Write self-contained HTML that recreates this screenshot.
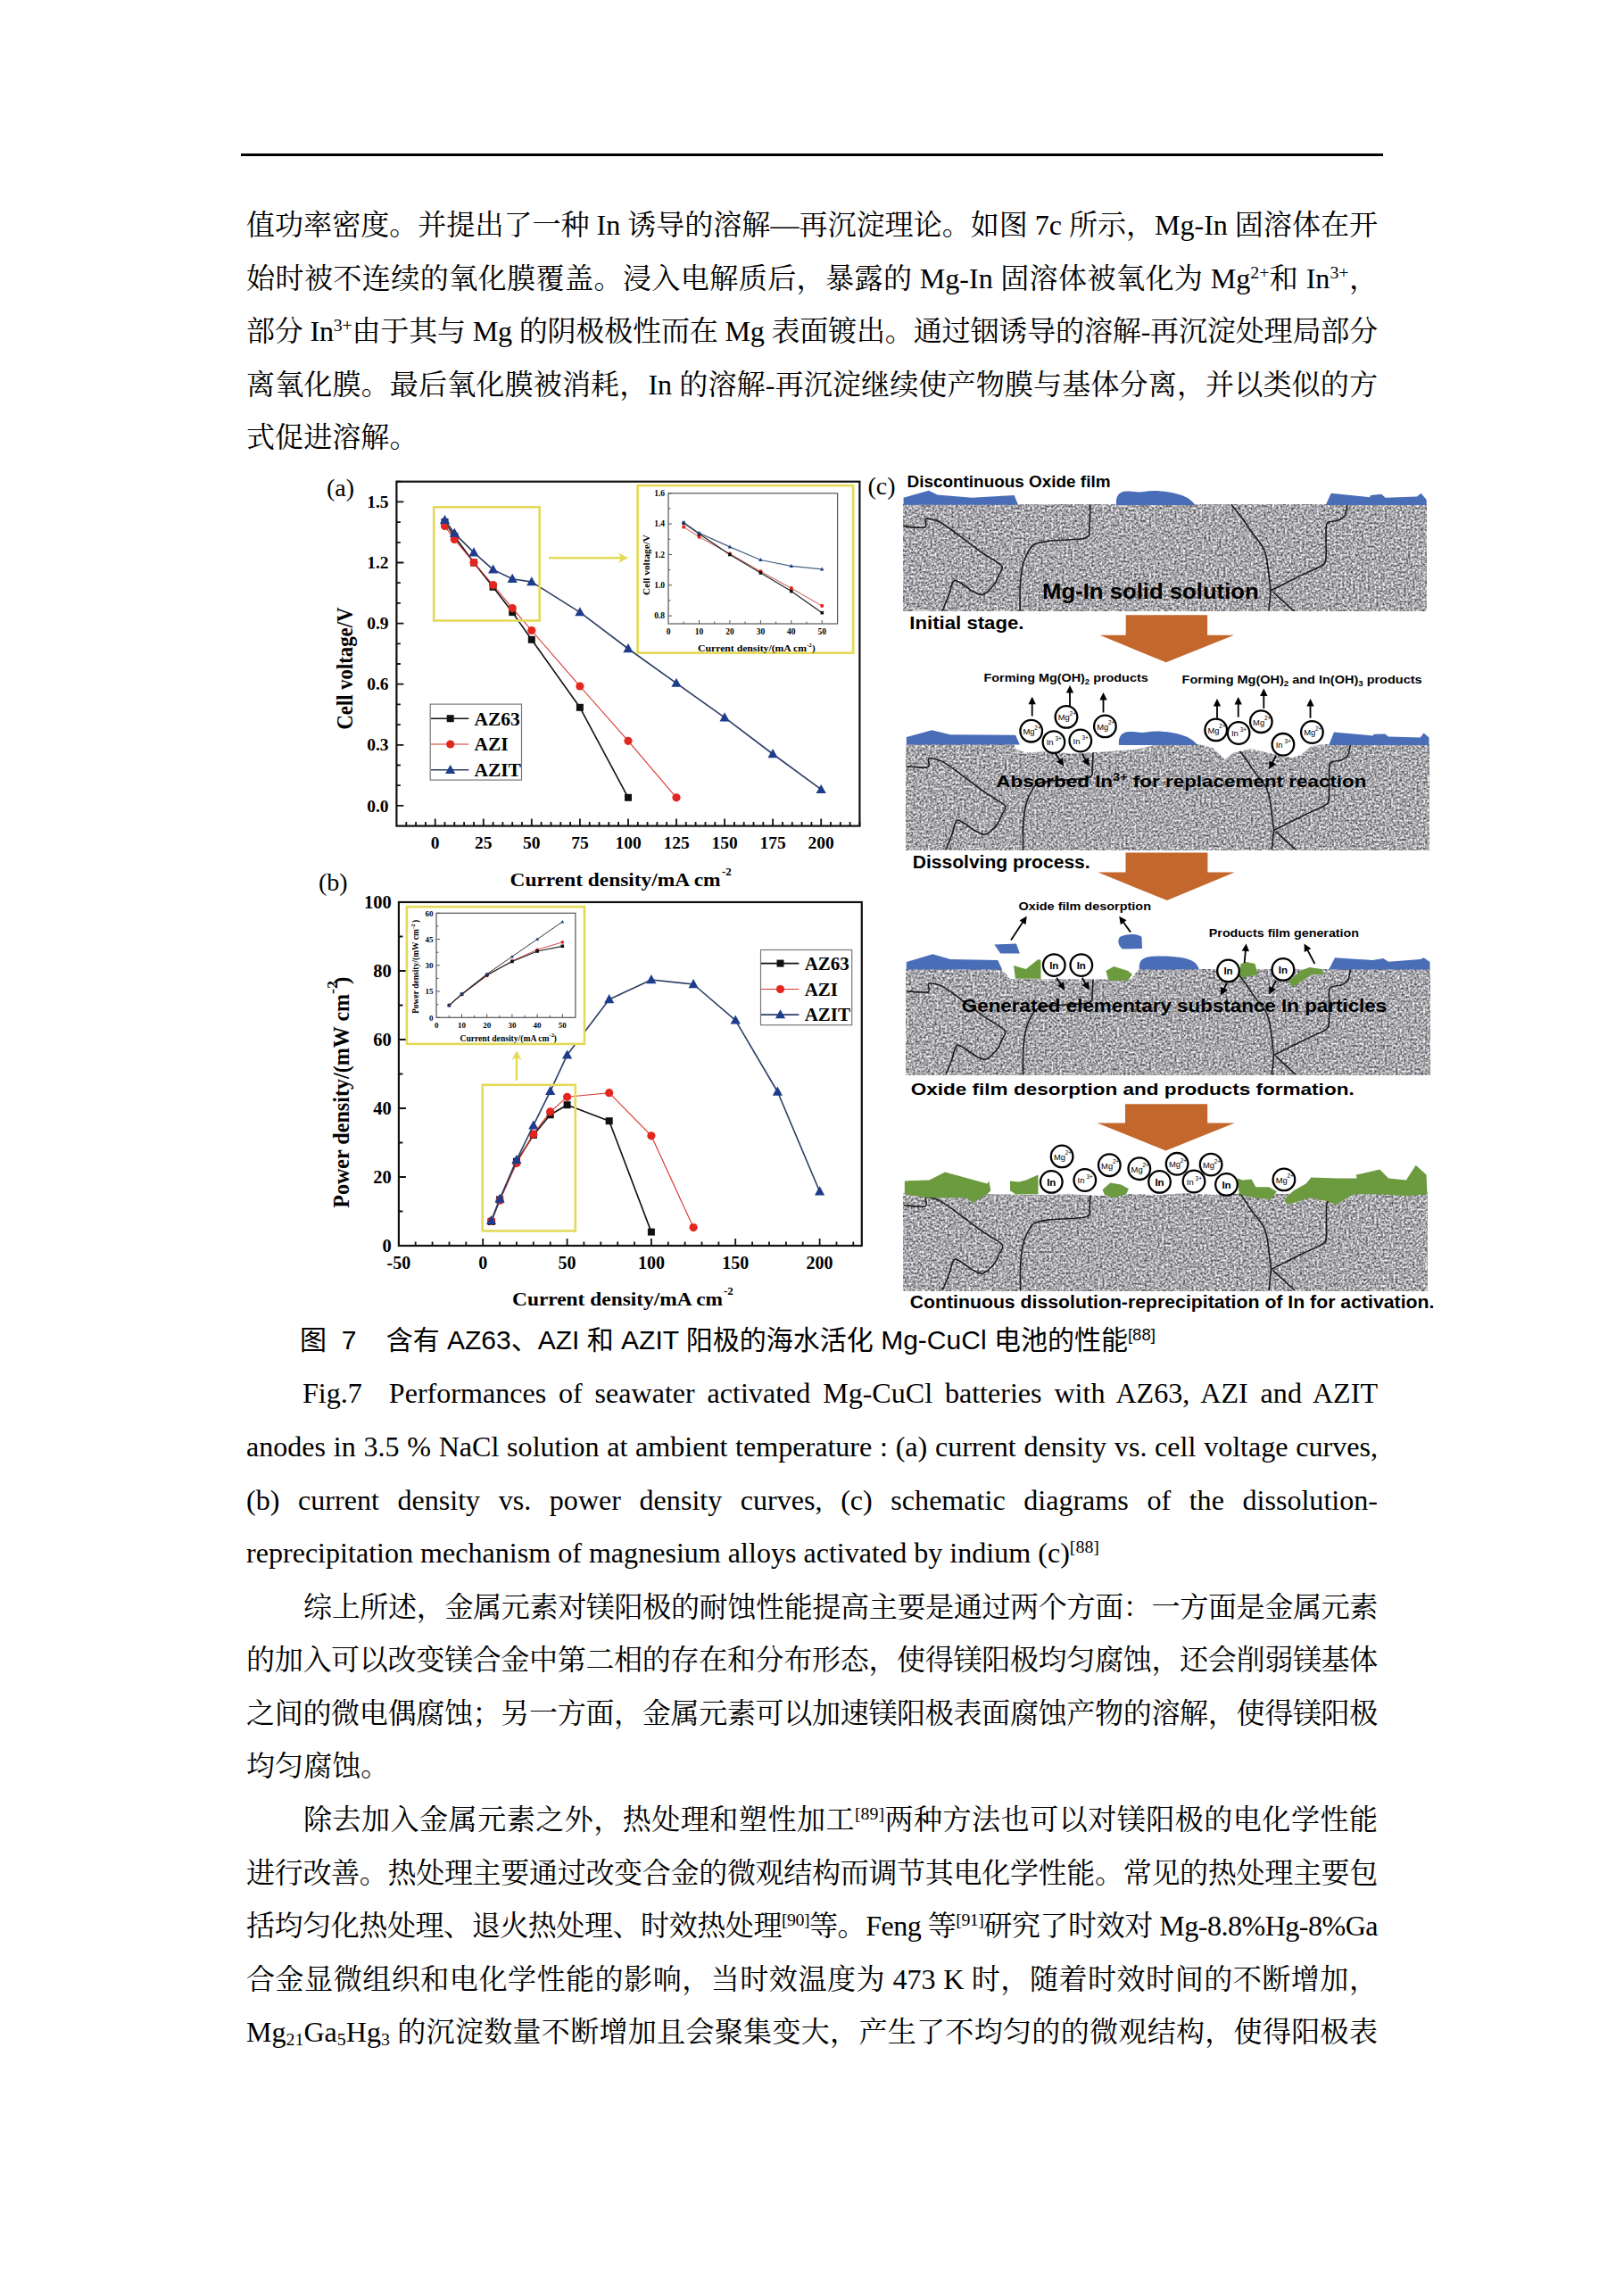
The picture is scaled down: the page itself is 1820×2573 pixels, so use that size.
<!DOCTYPE html><html><head><meta charset="utf-8"><title>page</title><style>
html,body{margin:0;padding:0;background:#fff}
body{width:1820px;height:2573px;position:relative;overflow:hidden}
.hr{position:absolute;left:270px;top:172px;width:1280px;height:3px;background:#000}
.ln{position:absolute;height:0;font-family:"Liberation Serif", "Noto Serif CJK SC", serif;font-size:32.08px;line-height:0;color:#000;white-space:nowrap}
.ln.j{text-align:justify;text-align-last:justify}
.ln>span.in{display:block}
.cap{font-family:"Liberation Sans","Noto Sans CJK SC",sans-serif;font-size:30px}
sup{font-size:0.62em;vertical-align:baseline;position:relative;top:-0.55em;line-height:0}
sub{font-size:0.62em;vertical-align:baseline;position:relative;top:0.22em;line-height:0}
svg{position:absolute;left:330px;top:505px}
</style></head><body><div class="hr"></div><div class="ln j" style="top:252.0px;left:276px;width:1268px;letter-spacing:-0.056px">值功率密度。并提出了一种 In 诱导的溶解—再沉淀理论。如图 7c 所示，Mg-In 固溶体在开</div><div class="ln j" style="top:311.5px;left:276px;width:1268px">始时被不连续的氧化膜覆盖。浸入电解质后，暴露的 Mg-In 固溶体被氧化为 Mg<sup>2+</sup>和 In<sup>3+</sup>，</div><div class="ln j" style="top:371.0px;left:276px;width:1268px;letter-spacing:-0.240px">部分 In<sup>3+</sup>由于其与 Mg 的阴极极性而在 Mg 表面镀出。通过铟诱导的溶解-再沉淀处理局部分</div><div class="ln j" style="top:430.5px;left:276px;width:1268px">离氧化膜。最后氧化膜被消耗，In 的溶解-再沉淀继续使产物膜与基体分离，并以类似的方</div><div class="ln" style="top:490.0px;left:276px;width:1268px">式促进溶解。</div><div class="ln j" style="top:1800.5px;left:340px;width:1204px;letter-spacing:-0.421px">综上所述，金属元素对镁阳极的耐蚀性能提高主要是通过两个方面：一方面是金属元素</div><div class="ln j" style="top:1860.0px;left:276px;width:1268px;letter-spacing:-0.402px">的加入可以改变镁合金中第二相的存在和分布形态，使得镁阳极均匀腐蚀，还会削弱镁基体</div><div class="ln j" style="top:1919.5px;left:276px;width:1268px;letter-spacing:-0.402px">之间的微电偶腐蚀；另一方面，金属元素可以加速镁阳极表面腐蚀产物的溶解，使得镁阳极</div><div class="ln" style="top:1979.0px;left:276px;width:1268px">均匀腐蚀。</div><div class="ln j" style="top:2039.0px;left:340px;width:1204px">除去加入金属元素之外，热处理和塑性加工<sup>[89]</sup>两种方法也可以对镁阳极的电化学性能</div><div class="ln j" style="top:2098.5px;left:276px;width:1268px;letter-spacing:-0.402px">进行改善。热处理主要通过改变合金的微观结构而调节其电化学性能。常见的热处理主要包</div><div class="ln j" style="top:2158.0px;left:276px;width:1268px;letter-spacing:-0.532px">括均匀化热处理、退火热处理、时效热处理<sup>[90]</sup>等。Feng 等<sup>[91]</sup>研究了时效对 Mg-8.8%Hg-8%Ga</div><div class="ln j" style="top:2217.5px;left:276px;width:1268px">合金显微组织和电化学性能的影响，当时效温度为 473 K 时，随着时效时间的不断增加，</div><div class="ln j" style="top:2277.0px;left:276px;width:1268px">Mg<sub>21</sub>Ga<sub>5</sub>Hg<sub>3</sub> 的沉淀数量不断增加且会聚集变大，产生了不均匀的的微观结构，使得阳极表</div><div class="ln en j" style="top:1561.3px;left:339px;width:1205px">Fig.7<span style="display:inline-block;width:30px"></span>Performances of seawater activated Mg-CuCl batteries with AZ63, AZI and AZIT</div><div class="ln en j" style="top:1620.8px;left:276px;width:1268px">anodes in 3.5 % NaCl solution at ambient temperature : (a) current density vs. cell voltage curves,</div><div class="ln en j" style="top:1680.9px;left:276px;width:1268px">(b) current density vs. power density curves, (c) schematic diagrams of the dissolution-</div><div class="ln en" style="top:1740.3px;left:276px;width:1268px">reprecipitation mechanism of magnesium alloys activated by indium (c)<sup>[88]</sup></div><div class="ln cap" style="top:1502.0px;left:336px;width:1000px">图&nbsp;&nbsp;7&nbsp;&nbsp;&nbsp;&nbsp;含有 AZ63、AZI 和 AZIT 阳极的海水活化 Mg-CuCl 电池的性能<sup>[88]</sup></div><svg width="1290" height="975" viewBox="330 505 1290 975"><rect x="444.4" y="539.7" width="519.0" height="385.9" fill="none" stroke="#111" stroke-width="2.2"/><path d="M455.3,925.6v-4.5M466.1,925.6v-4.5M476.9,925.6v-4.5M487.7,925.6v-8M498.5,925.6v-4.5M509.3,925.6v-4.5M520.1,925.6v-4.5M531.0,925.6v-4.5M541.8,925.6v-8M552.6,925.6v-4.5M563.4,925.6v-4.5M574.2,925.6v-4.5M585.0,925.6v-4.5M595.8,925.6v-8M606.6,925.6v-4.5M617.5,925.6v-4.5M628.3,925.6v-4.5M639.1,925.6v-4.5M649.9,925.6v-8M660.7,925.6v-4.5M671.5,925.6v-4.5M682.3,925.6v-4.5M693.1,925.6v-4.5M704.0,925.6v-8M714.8,925.6v-4.5M725.6,925.6v-4.5M736.4,925.6v-4.5M747.2,925.6v-4.5M758.0,925.6v-8M768.8,925.6v-4.5M779.6,925.6v-4.5M790.5,925.6v-4.5M801.3,925.6v-4.5M812.1,925.6v-8M822.9,925.6v-4.5M833.7,925.6v-4.5M844.5,925.6v-4.5M855.3,925.6v-4.5M866.1,925.6v-8M877.0,925.6v-4.5M887.8,925.6v-4.5M898.6,925.6v-4.5M909.4,925.6v-4.5M920.2,925.6v-8M931.0,925.6v-4.5M941.8,925.6v-4.5M952.6,925.6v-4.5M963.5,925.6v-4.5M444.4,902.9h8M444.4,880.2h4.5M444.4,857.5h4.5M444.4,834.8h8M444.4,812.1h4.5M444.4,789.4h4.5M444.4,766.7h8M444.4,744.0h4.5M444.4,721.3h4.5M444.4,698.6h8M444.4,675.9h4.5M444.4,653.2h4.5M444.4,630.5h8M444.4,607.8h4.5M444.4,585.1h4.5M444.4,562.4h8M444.4,539.7h4.5" stroke="#111" stroke-width="1.8" fill="none"/><text x="487.7" y="951.4" text-anchor="middle" style="font-family:'Liberation Serif', serif;font-weight:bold;font-size:19.5px">0</text><text x="541.8" y="951.4" text-anchor="middle" style="font-family:'Liberation Serif', serif;font-weight:bold;font-size:19.5px">25</text><text x="595.8" y="951.4" text-anchor="middle" style="font-family:'Liberation Serif', serif;font-weight:bold;font-size:19.5px">50</text><text x="649.9" y="951.4" text-anchor="middle" style="font-family:'Liberation Serif', serif;font-weight:bold;font-size:19.5px">75</text><text x="704.0" y="951.4" text-anchor="middle" style="font-family:'Liberation Serif', serif;font-weight:bold;font-size:19.5px">100</text><text x="758.0" y="951.4" text-anchor="middle" style="font-family:'Liberation Serif', serif;font-weight:bold;font-size:19.5px">125</text><text x="812.1" y="951.4" text-anchor="middle" style="font-family:'Liberation Serif', serif;font-weight:bold;font-size:19.5px">150</text><text x="866.1" y="951.4" text-anchor="middle" style="font-family:'Liberation Serif', serif;font-weight:bold;font-size:19.5px">175</text><text x="920.2" y="951.4" text-anchor="middle" style="font-family:'Liberation Serif', serif;font-weight:bold;font-size:19.5px">200</text><text x="435.5" y="909.5" text-anchor="end" style="font-family:'Liberation Serif', serif;font-weight:bold;font-size:19.5px">0.0</text><text x="435.5" y="841.4" text-anchor="end" style="font-family:'Liberation Serif', serif;font-weight:bold;font-size:19.5px">0.3</text><text x="435.5" y="773.3" text-anchor="end" style="font-family:'Liberation Serif', serif;font-weight:bold;font-size:19.5px">0.6</text><text x="435.5" y="705.2" text-anchor="end" style="font-family:'Liberation Serif', serif;font-weight:bold;font-size:19.5px">0.9</text><text x="435.5" y="637.1" text-anchor="end" style="font-family:'Liberation Serif', serif;font-weight:bold;font-size:19.5px">1.2</text><text x="435.5" y="569.0" text-anchor="end" style="font-family:'Liberation Serif', serif;font-weight:bold;font-size:19.5px">1.5</text><text x="571.6" y="992.5" style="font-family:'Liberation Serif', serif;font-weight:bold;font-size:21px" textLength="236" lengthAdjust="spacingAndGlyphs">Current density/mA cm</text><text x="809" y="981" style="font-family:'Liberation Serif', serif;font-weight:bold;font-size:13px">-2</text><text transform="translate(395.2,817.6) rotate(-90)" style="font-family:'Liberation Serif', serif;font-weight:bold;font-size:24.5px" textLength="137" lengthAdjust="spacingAndGlyphs">Cell voltage/V</text><text x="366" y="556" style="font-family:'Liberation Serif', serif;font-size:28px">(a)</text><polyline points="498.5,585.1 509.3,601.0 531.0,630.5 552.6,657.7 574.2,686.1 595.8,716.8 649.9,792.8 704.0,893.8" fill="none" stroke="#111" stroke-width="1.6" stroke-linejoin="round"/><rect x="494.5" y="581.1" width="8.0" height="8.0" fill="#111"/><rect x="505.3" y="597.0" width="8.0" height="8.0" fill="#111"/><rect x="527.0" y="626.5" width="8.0" height="8.0" fill="#111"/><rect x="548.6" y="653.7" width="8.0" height="8.0" fill="#111"/><rect x="570.2" y="682.1" width="8.0" height="8.0" fill="#111"/><rect x="591.8" y="712.8" width="8.0" height="8.0" fill="#111"/><rect x="645.9" y="788.8" width="8.0" height="8.0" fill="#111"/><rect x="700.0" y="889.8" width="8.0" height="8.0" fill="#111"/><polyline points="498.5,589.6 509.3,604.4 531.0,630.5 552.6,655.5 574.2,681.6 595.8,706.5 649.9,769.0 704.0,830.3 758.0,893.8" fill="none" stroke="#d8322c" stroke-width="1.1" stroke-linejoin="round"/><circle cx="498.5" cy="589.6" r="4.6" fill="#e3261e"/><circle cx="509.3" cy="604.4" r="4.6" fill="#e3261e"/><circle cx="531.0" cy="630.5" r="4.6" fill="#e3261e"/><circle cx="552.6" cy="655.5" r="4.6" fill="#e3261e"/><circle cx="574.2" cy="681.6" r="4.6" fill="#e3261e"/><circle cx="595.8" cy="706.5" r="4.6" fill="#e3261e"/><circle cx="649.9" cy="769.0" r="4.6" fill="#e3261e"/><circle cx="704.0" cy="830.3" r="4.6" fill="#e3261e"/><circle cx="758.0" cy="893.8" r="4.6" fill="#e3261e"/><polyline points="498.5,582.8 509.3,597.6 531.0,619.1 552.6,638.4 574.2,648.7 595.8,652.1 649.9,686.1 704.0,727.0 758.0,765.6 812.1,804.2 866.1,845.0 920.2,884.7" fill="none" stroke="#2c3d66" stroke-width="1.6" stroke-linejoin="round"/><polygon points="498.5,576.9 504.1,587.0 492.9,587.0" fill="#1d3c8c"/><polygon points="509.3,591.7 514.9,601.8 503.7,601.8" fill="#1d3c8c"/><polygon points="531.0,613.3 536.6,623.4 525.4,623.4" fill="#1d3c8c"/><polygon points="552.6,632.6 558.2,642.6 547.0,642.6" fill="#1d3c8c"/><polygon points="574.2,642.8 579.8,652.9 568.6,652.9" fill="#1d3c8c"/><polygon points="595.8,646.2 601.4,656.3 590.2,656.3" fill="#1d3c8c"/><polygon points="649.9,680.2 655.5,690.3 644.3,690.3" fill="#1d3c8c"/><polygon points="704.0,721.1 709.6,731.2 698.4,731.2" fill="#1d3c8c"/><polygon points="758.0,759.7 763.6,769.8 752.4,769.8" fill="#1d3c8c"/><polygon points="812.1,798.3 817.7,808.4 806.5,808.4" fill="#1d3c8c"/><polygon points="866.1,839.1 871.7,849.2 860.5,849.2" fill="#1d3c8c"/><polygon points="920.2,878.9 925.8,888.9 914.6,888.9" fill="#1d3c8c"/><rect x="486.2" y="568.3" width="118.5" height="127.2" fill="none" stroke="#e3da58" stroke-width="2.6"/><rect x="714.6" y="544.1" width="241.5" height="187.6" fill="#fff" stroke="#e3da58" stroke-width="2.7"/><path d="M615,625.3H697" stroke="#e3da58" stroke-width="2.4"/><polygon points="704.0,625.3 693.0,619.5 696.0,625.3 693.0,631.1" fill="#e3da58"/><rect x="482.2" y="789.1" width="102.3" height="85.0" fill="#fff" stroke="#777" stroke-width="1.2"/><path d="M483.0,805.2H525.3" stroke="#111" stroke-width="1.6"/><rect x="500.7" y="801.2" width="8.0" height="8.0" fill="#111"/><text x="531.4" y="812.5" style="font-family:'Liberation Serif', serif;font-weight:bold;font-size:21.5px">AZ63</text><path d="M483.0,834.0H525.3" stroke="#d8322c" stroke-width="1.1"/><circle cx="504.7" cy="834.0" r="4.6" fill="#e3261e"/><text x="531.4" y="841.3" style="font-family:'Liberation Serif', serif;font-weight:bold;font-size:21.5px">AZI</text><path d="M483.0,862.8H525.3" stroke="#2c3d66" stroke-width="1.6"/><polygon points="504.7,856.9 510.3,867.0 499.1,867.0" fill="#1d3c8c"/><text x="531.4" y="870.1" style="font-family:'Liberation Serif', serif;font-weight:bold;font-size:21.5px">AZIT</text><rect x="749" y="552.8" width="189.6" height="146.2" fill="none" stroke="#555" stroke-width="1.2"/><path d="M766.2,699v-2.5M783.5,699v-4M800.7,699v-2.5M817.9,699v-4M835.1,699v-2.5M852.4,699v-4M869.6,699v-2.5M886.8,699v-4M904.0,699v-2.5M921.2,699v-4M749,690.1h4M749,672.9h2.5M749,655.8h4M749,638.6h2.5M749,621.5h4M749,604.3h2.5M749,587.1h4M749,570.0h2.5M749,552.8h4" stroke="#555" stroke-width="1" fill="none"/><text x="749.0" y="710.5" text-anchor="middle" style="font-family:'Liberation Serif', serif;font-weight:bold;font-size:9.5px">0</text><text x="783.5" y="710.5" text-anchor="middle" style="font-family:'Liberation Serif', serif;font-weight:bold;font-size:9.5px">10</text><text x="817.9" y="710.5" text-anchor="middle" style="font-family:'Liberation Serif', serif;font-weight:bold;font-size:9.5px">20</text><text x="852.4" y="710.5" text-anchor="middle" style="font-family:'Liberation Serif', serif;font-weight:bold;font-size:9.5px">30</text><text x="886.8" y="710.5" text-anchor="middle" style="font-family:'Liberation Serif', serif;font-weight:bold;font-size:9.5px">40</text><text x="921.2" y="710.5" text-anchor="middle" style="font-family:'Liberation Serif', serif;font-weight:bold;font-size:9.5px">50</text><text x="745" y="693.4" text-anchor="end" style="font-family:'Liberation Serif', serif;font-weight:bold;font-size:9.5px">0.8</text><text x="745" y="659.1" text-anchor="end" style="font-family:'Liberation Serif', serif;font-weight:bold;font-size:9.5px">1.0</text><text x="745" y="624.8" text-anchor="end" style="font-family:'Liberation Serif', serif;font-weight:bold;font-size:9.5px">1.2</text><text x="745" y="590.4" text-anchor="end" style="font-family:'Liberation Serif', serif;font-weight:bold;font-size:9.5px">1.4</text><text x="745" y="556.1" text-anchor="end" style="font-family:'Liberation Serif', serif;font-weight:bold;font-size:9.5px">1.6</text><text x="782" y="730" style="font-family:'Liberation Serif', serif;font-weight:bold;font-size:11px" textLength="122" lengthAdjust="spacingAndGlyphs">Current density/(mA cm</text><text x="904" y="725" style="font-family:'Liberation Serif', serif;font-weight:bold;font-size:7px">-2</text><text x="910" y="730" style="font-family:'Liberation Serif', serif;font-weight:bold;font-size:11px">)</text><text transform="translate(728,667) rotate(-90)" style="font-family:'Liberation Serif', serif;font-weight:bold;font-size:11px" textLength="68" lengthAdjust="spacingAndGlyphs">Cell voltage/V</text><polyline points="766.2,590.6 783.5,601.7 817.9,620.6 852.4,640.3 886.8,659.2 921.2,678.9" fill="none" stroke="#c8504a" stroke-width="1.0" stroke-linejoin="round"/><circle cx="766.2" cy="590.6" r="2.1" fill="#e3261e"/><circle cx="783.5" cy="601.7" r="2.1" fill="#e3261e"/><circle cx="817.9" cy="620.6" r="2.1" fill="#e3261e"/><circle cx="852.4" cy="640.3" r="2.1" fill="#e3261e"/><circle cx="886.8" cy="659.2" r="2.1" fill="#e3261e"/><circle cx="921.2" cy="678.9" r="2.1" fill="#e3261e"/><polyline points="766.2,586.3 783.5,598.3 817.9,621.5 852.4,642.1 886.8,662.6 921.2,686.7" fill="none" stroke="#222" stroke-width="1.2" stroke-linejoin="round"/><rect x="764.4" y="584.5" width="3.6" height="3.6" fill="#111"/><rect x="781.7" y="596.5" width="3.6" height="3.6" fill="#111"/><rect x="816.1" y="619.7" width="3.6" height="3.6" fill="#111"/><rect x="850.6" y="640.3" width="3.6" height="3.6" fill="#111"/><rect x="885.0" y="660.8" width="3.6" height="3.6" fill="#111"/><rect x="919.5" y="684.9" width="3.6" height="3.6" fill="#111"/><polyline points="766.2,585.4 783.5,597.4 817.9,612.9 852.4,627.5 886.8,634.3 921.2,637.8" fill="none" stroke="#48607e" stroke-width="1.2" stroke-linejoin="round"/><polygon points="766.2,583.1 768.5,587.1 764.0,587.1" fill="#1d3c8c"/><polygon points="783.5,595.1 785.7,599.1 781.2,599.1" fill="#1d3c8c"/><polygon points="817.9,610.5 820.1,614.6 815.7,614.6" fill="#1d3c8c"/><polygon points="852.4,625.1 854.6,629.1 850.1,629.1" fill="#1d3c8c"/><polygon points="886.8,632.0 889.0,636.0 884.6,636.0" fill="#1d3c8c"/><polygon points="921.2,635.4 923.5,639.4 919.0,639.4" fill="#1d3c8c"/><rect x="446.9" y="1011.0" width="518.9" height="385.0" fill="none" stroke="#111" stroke-width="2.2"/><path d="M465.7,1396.0v-4.5M484.6,1396.0v-4.5M503.5,1396.0v-4.5M522.3,1396.0v-4.5M541.2,1396.0v-8M560.1,1396.0v-4.5M578.9,1396.0v-4.5M597.8,1396.0v-4.5M616.7,1396.0v-4.5M635.6,1396.0v-8M654.4,1396.0v-4.5M673.3,1396.0v-4.5M692.2,1396.0v-4.5M711.0,1396.0v-4.5M729.9,1396.0v-8M748.8,1396.0v-4.5M767.6,1396.0v-4.5M786.5,1396.0v-4.5M805.4,1396.0v-4.5M824.2,1396.0v-8M843.1,1396.0v-4.5M862.0,1396.0v-4.5M880.9,1396.0v-4.5M899.7,1396.0v-4.5M918.6,1396.0v-8M937.5,1396.0v-4.5M956.3,1396.0v-4.5M446.9,1357.5h4.5M446.9,1319.0h8M446.9,1280.5h4.5M446.9,1242.0h8M446.9,1203.5h4.5M446.9,1165.0h8M446.9,1126.5h4.5M446.9,1088.0h8M446.9,1049.5h4.5" stroke="#111" stroke-width="1.8" fill="none"/><text x="446.9" y="1421.8" text-anchor="middle" style="font-family:'Liberation Serif', serif;font-weight:bold;font-size:20px">-50</text><text x="541.2" y="1421.8" text-anchor="middle" style="font-family:'Liberation Serif', serif;font-weight:bold;font-size:20px">0</text><text x="635.6" y="1421.8" text-anchor="middle" style="font-family:'Liberation Serif', serif;font-weight:bold;font-size:20px">50</text><text x="729.9" y="1421.8" text-anchor="middle" style="font-family:'Liberation Serif', serif;font-weight:bold;font-size:20px">100</text><text x="824.2" y="1421.8" text-anchor="middle" style="font-family:'Liberation Serif', serif;font-weight:bold;font-size:20px">150</text><text x="918.6" y="1421.8" text-anchor="middle" style="font-family:'Liberation Serif', serif;font-weight:bold;font-size:20px">200</text><text x="438.8" y="1403.0" text-anchor="end" style="font-family:'Liberation Serif', serif;font-weight:bold;font-size:20.5px">0</text><text x="438.8" y="1326.0" text-anchor="end" style="font-family:'Liberation Serif', serif;font-weight:bold;font-size:20.5px">20</text><text x="438.8" y="1249.0" text-anchor="end" style="font-family:'Liberation Serif', serif;font-weight:bold;font-size:20.5px">40</text><text x="438.8" y="1172.0" text-anchor="end" style="font-family:'Liberation Serif', serif;font-weight:bold;font-size:20.5px">60</text><text x="438.8" y="1095.0" text-anchor="end" style="font-family:'Liberation Serif', serif;font-weight:bold;font-size:20.5px">80</text><text x="438.8" y="1018.0" text-anchor="end" style="font-family:'Liberation Serif', serif;font-weight:bold;font-size:20.5px">100</text><text x="574" y="1462.8" style="font-family:'Liberation Serif', serif;font-weight:bold;font-size:21px" textLength="236" lengthAdjust="spacingAndGlyphs">Current density/mA cm</text><text x="811" y="1451" style="font-family:'Liberation Serif', serif;font-weight:bold;font-size:13px">-2</text><text x="357" y="998" style="font-family:'Liberation Serif', serif;font-size:28px">(b)</text><polyline points="550.6,1369.0 560.1,1344.4 578.9,1301.7 597.8,1272.0 616.7,1249.3 635.6,1238.2 682.7,1256.2 729.9,1380.6" fill="none" stroke="#111" stroke-width="1.6" stroke-linejoin="round"/><rect x="546.6" y="1365.0" width="8.0" height="8.0" fill="#111"/><rect x="556.1" y="1340.4" width="8.0" height="8.0" fill="#111"/><rect x="574.9" y="1297.7" width="8.0" height="8.0" fill="#111"/><rect x="593.8" y="1268.0" width="8.0" height="8.0" fill="#111"/><rect x="612.7" y="1245.3" width="8.0" height="8.0" fill="#111"/><rect x="631.6" y="1234.2" width="8.0" height="8.0" fill="#111"/><rect x="678.7" y="1252.2" width="8.0" height="8.0" fill="#111"/><rect x="725.9" y="1376.6" width="8.0" height="8.0" fill="#111"/><polyline points="550.6,1368.3 560.1,1345.2 578.9,1303.6 597.8,1270.9 616.7,1245.8 635.6,1229.3 682.7,1224.7 729.9,1272.8 777.1,1375.6" fill="none" stroke="#d8322c" stroke-width="1.1" stroke-linejoin="round"/><circle cx="550.6" cy="1368.3" r="4.6" fill="#e3261e"/><circle cx="560.1" cy="1345.2" r="4.6" fill="#e3261e"/><circle cx="578.9" cy="1303.6" r="4.6" fill="#e3261e"/><circle cx="597.8" cy="1270.9" r="4.6" fill="#e3261e"/><circle cx="616.7" cy="1245.8" r="4.6" fill="#e3261e"/><circle cx="635.6" cy="1229.3" r="4.6" fill="#e3261e"/><circle cx="682.7" cy="1224.7" r="4.6" fill="#e3261e"/><circle cx="729.9" cy="1272.8" r="4.6" fill="#e3261e"/><circle cx="777.1" cy="1375.6" r="4.6" fill="#e3261e"/><polyline points="550.6,1367.9 560.1,1343.6 578.9,1299.8 597.8,1261.2 616.7,1222.8 635.6,1182.3 682.7,1120.0 729.9,1098.0 777.1,1103.0 824.2,1143.4 871.4,1223.5 918.6,1335.2" fill="none" stroke="#2c3d66" stroke-width="1.6" stroke-linejoin="round"/><polygon points="550.6,1362.0 556.2,1372.1 545.0,1372.1" fill="#1d3c8c"/><polygon points="560.1,1337.8 565.7,1347.8 554.5,1347.8" fill="#1d3c8c"/><polygon points="578.9,1293.9 584.5,1304.0 573.3,1304.0" fill="#1d3c8c"/><polygon points="597.8,1255.4 603.4,1265.5 592.2,1265.5" fill="#1d3c8c"/><polygon points="616.7,1216.9 622.3,1227.0 611.1,1227.0" fill="#1d3c8c"/><polygon points="635.6,1176.4 641.2,1186.5 630.0,1186.5" fill="#1d3c8c"/><polygon points="682.7,1114.1 688.3,1124.2 677.1,1124.2" fill="#1d3c8c"/><polygon points="729.9,1092.1 735.5,1102.2 724.3,1102.2" fill="#1d3c8c"/><polygon points="777.1,1097.1 782.7,1107.2 771.5,1107.2" fill="#1d3c8c"/><polygon points="824.2,1137.6 829.9,1147.6 818.6,1147.6" fill="#1d3c8c"/><polygon points="871.4,1217.6 877.0,1227.7 865.8,1227.7" fill="#1d3c8c"/><polygon points="918.6,1329.3 924.2,1339.4 913.0,1339.4" fill="#1d3c8c"/><rect x="540.7" y="1215.8" width="104.1" height="163.6" fill="none" stroke="#e3da58" stroke-width="2.6"/><path d="M579,1211V1185" stroke="#e3da58" stroke-width="2.4"/><polygon points="579.0,1177.5 573.5,1188.0 579.0,1185.0 584.5,1188.0" fill="#e3da58"/><rect x="455.9" y="1016.2" width="199.1" height="153.7" fill="#fff" stroke="#e3da58" stroke-width="2.6"/><rect x="852.5" y="1064.5" width="102.2" height="84.2" fill="#fff" stroke="#777" stroke-width="1.2"/><path d="M853.0,1079.6H895.4" stroke="#111" stroke-width="1.6"/><rect x="870.5" y="1075.6" width="8.0" height="8.0" fill="#111"/><text x="901.7" y="1086.9" style="font-family:'Liberation Serif', serif;font-weight:bold;font-size:21px">AZ63</text><path d="M853.0,1108.5H895.4" stroke="#d8322c" stroke-width="1.1"/><circle cx="874.5" cy="1108.5" r="4.6" fill="#e3261e"/><text x="901.7" y="1115.8" style="font-family:'Liberation Serif', serif;font-weight:bold;font-size:21px">AZI</text><path d="M853.0,1137.1H895.4" stroke="#2c3d66" stroke-width="1.6"/><polygon points="874.5,1131.2 880.1,1141.3 868.9,1141.3" fill="#1d3c8c"/><text x="901.7" y="1144.4" style="font-family:'Liberation Serif', serif;font-weight:bold;font-size:21px">AZIT</text><rect x="489" y="1023.3" width="155.9" height="117" fill="none" stroke="#555" stroke-width="1.2"/><path d="M503.4,1140.3v-2.5M517.5,1140.3v-4M531.6,1140.3v-2.5M545.7,1140.3v-4M559.8,1140.3v-2.5M573.9,1140.3v-4M588.0,1140.3v-2.5M602.1,1140.3v-4M616.2,1140.3v-2.5M630.3,1140.3v-4M489,1140.3h4M489,1111.0h4M489,1081.8h4M489,1052.5h4M489,1023.3h4M489,1125.7h2.5M489,1096.4h2.5M489,1067.2h2.5M489,1037.9h2.5" stroke="#555" stroke-width="1" fill="none"/><text x="489.3" y="1151.5" text-anchor="middle" style="font-family:'Liberation Serif', serif;font-weight:bold;font-size:9px">0</text><text x="517.5" y="1151.5" text-anchor="middle" style="font-family:'Liberation Serif', serif;font-weight:bold;font-size:9px">10</text><text x="545.7" y="1151.5" text-anchor="middle" style="font-family:'Liberation Serif', serif;font-weight:bold;font-size:9px">20</text><text x="573.9" y="1151.5" text-anchor="middle" style="font-family:'Liberation Serif', serif;font-weight:bold;font-size:9px">30</text><text x="602.1" y="1151.5" text-anchor="middle" style="font-family:'Liberation Serif', serif;font-weight:bold;font-size:9px">40</text><text x="630.3" y="1151.5" text-anchor="middle" style="font-family:'Liberation Serif', serif;font-weight:bold;font-size:9px">50</text><text x="485.5" y="1143.5" text-anchor="end" style="font-family:'Liberation Serif', serif;font-weight:bold;font-size:9px">0</text><text x="485.5" y="1114.2" text-anchor="end" style="font-family:'Liberation Serif', serif;font-weight:bold;font-size:9px">15</text><text x="485.5" y="1085.0" text-anchor="end" style="font-family:'Liberation Serif', serif;font-weight:bold;font-size:9px">30</text><text x="485.5" y="1055.8" text-anchor="end" style="font-family:'Liberation Serif', serif;font-weight:bold;font-size:9px">45</text><text x="485.5" y="1026.5" text-anchor="end" style="font-family:'Liberation Serif', serif;font-weight:bold;font-size:9px">60</text><text x="515.5" y="1166.5" style="font-family:'Liberation Serif', serif;font-weight:bold;font-size:10px" textLength="100" lengthAdjust="spacingAndGlyphs">Current density/(mA cm</text><text x="615.5" y="1162" style="font-family:'Liberation Serif', serif;font-weight:bold;font-size:6.5px">-2</text><text x="620.5" y="1166.5" style="font-family:'Liberation Serif', serif;font-weight:bold;font-size:10px">)</text><text transform="translate(469,1136) rotate(-90)" style="font-family:'Liberation Serif', serif;font-weight:bold;font-size:9.5px" textLength="95" lengthAdjust="spacingAndGlyphs">Power density/(mW cm</text><text transform="translate(465,1041) rotate(-90)" style="font-family:'Liberation Serif', serif;font-weight:bold;font-size:6.5px">-2</text><text transform="translate(469,1034) rotate(-90)" style="font-family:'Liberation Serif', serif;font-weight:bold;font-size:9.5px">)</text><polyline points="503.4,1126.6 517.5,1114.6 545.7,1093.5 573.9,1076.9 602.1,1064.2 630.3,1055.9" fill="none" stroke="#c8504a" stroke-width="1.0" stroke-linejoin="round"/><circle cx="503.4" cy="1126.6" r="1.8" fill="#e3261e"/><circle cx="517.5" cy="1114.6" r="1.8" fill="#e3261e"/><circle cx="545.7" cy="1093.5" r="1.8" fill="#e3261e"/><circle cx="573.9" cy="1076.9" r="1.8" fill="#e3261e"/><circle cx="602.1" cy="1064.2" r="1.8" fill="#e3261e"/><circle cx="630.3" cy="1055.9" r="1.8" fill="#e3261e"/><polyline points="503.4,1126.6 517.5,1114.2 545.7,1092.5 573.9,1077.5 602.1,1066.0 630.3,1060.3" fill="none" stroke="#222" stroke-width="1.2" stroke-linejoin="round"/><rect x="501.6" y="1124.8" width="3.6" height="3.6" fill="#111"/><rect x="515.7" y="1112.4" width="3.6" height="3.6" fill="#111"/><rect x="543.9" y="1090.7" width="3.6" height="3.6" fill="#111"/><rect x="572.1" y="1075.7" width="3.6" height="3.6" fill="#111"/><rect x="600.3" y="1064.2" width="3.6" height="3.6" fill="#111"/><rect x="628.5" y="1058.5" width="3.6" height="3.6" fill="#111"/><polyline points="503.4,1126.3 517.5,1113.8 545.7,1091.5 573.9,1072.0 602.1,1052.5 630.3,1033.0" fill="none" stroke="#333" stroke-width="1.0" stroke-linejoin="round"/><polygon points="503.4,1124.2 505.4,1127.7 501.4,1127.7" fill="#1d3c8c"/><polygon points="517.5,1111.7 519.5,1115.2 515.5,1115.2" fill="#1d3c8c"/><polygon points="545.7,1089.5 547.7,1093.0 543.7,1093.0" fill="#1d3c8c"/><polygon points="573.9,1070.0 575.9,1073.5 571.9,1073.5" fill="#1d3c8c"/><polygon points="602.1,1050.5 604.1,1054.0 600.1,1054.0" fill="#1d3c8c"/><polygon points="630.3,1031.0 632.3,1034.5 628.3,1034.5" fill="#1d3c8c"/><text transform="translate(390.5,1353.8) rotate(-90)" style="font-family:'Liberation Serif', serif;font-weight:bold;font-size:25.5px" textLength="240" lengthAdjust="spacingAndGlyphs">Power density/(mW cm</text><text transform="translate(378,1114) rotate(-90)" style="font-family:'Liberation Serif', serif;font-weight:bold;font-size:16px" textLength="15" lengthAdjust="spacingAndGlyphs">-2</text><text transform="translate(390.5,1103) rotate(-90)" style="font-family:'Liberation Serif', serif;font-weight:bold;font-size:25.5px">)</text><defs><filter id="gran" x="0" y="0" width="1" height="1" filterUnits="objectBoundingBox" color-interpolation-filters="sRGB"><feTurbulence type="fractalNoise" baseFrequency="0.42" numOctaves="3" seed="11" result="n"/><feColorMatrix in="n" type="matrix" values="1.15 0 0 0 0.080  1.15 0 0 0 0.080  1.15 0 0 0 0.100  0 0 0 0 1"/></filter><clipPath id="lc0"><rect x="1012.4" y="565.3" width="586.3" height="119.4"/></clipPath><clipPath id="lc1"><rect x="1015.8" y="834.0" width="585.7" height="118.3"/></clipPath><clipPath id="lc2"><rect x="1015.8" y="1086.0" width="586.7" height="118.2"/></clipPath><clipPath id="lc3"><rect x="1012.8" y="1335.5" width="586.7" height="110.7"/></clipPath></defs><rect x="1012.4" y="565.3" width="586.3" height="119.4" fill="#9d9da3" filter="url(#gran)"/><path d="M1012.4,590.0C1015.8,590.1 1032.9,592.2 1036.5,591.0C1040.1,589.8 1035.3,582.3 1037.6,581.4C1039.9,580.5 1047.5,582.1 1052.7,584.7C1057.9,587.3 1067.4,594.8 1074.2,599.7C1081.0,604.6 1093.1,614.1 1100.0,619.0C1106.9,623.9 1120.0,630.4 1122.7,634.2C1125.4,638.0 1120.0,642.5 1118.9,645.3C1117.8,648.1 1116.8,651.2 1115.2,653.6C1113.6,656.0 1109.6,660.4 1107.4,662.3C1105.2,664.2 1102.6,666.6 1100.0,666.6C1097.4,666.6 1093.6,664.5 1089.3,662.2C1085.0,659.9 1073.7,649.8 1070.0,650.4C1066.3,651.0 1065.4,661.6 1063.4,666.6C1061.4,671.6 1057.0,682.6 1055.9,685.3M1143.2,685.3C1143.2,681.4 1142.9,664.8 1143.2,657.9C1143.5,651.0 1144.5,642.2 1145.4,637.3C1146.3,632.4 1147.9,627.2 1149.7,623.4C1151.5,619.6 1154.6,613.0 1158.3,610.5C1162.0,608.0 1167.2,607.3 1175.5,606.2C1183.8,605.1 1210.0,605.2 1216.5,603.0C1223.0,600.8 1220.0,596.5 1220.8,591.1C1221.6,585.7 1221.7,569.0 1221.9,565.3M1379.7,565.3C1381.6,567.7 1389.8,577.7 1393.0,582.0C1396.2,586.3 1398.7,591.0 1401.9,595.4C1405.1,599.8 1412.7,608.7 1415.2,613.1C1417.7,617.5 1418.5,620.7 1419.6,626.4C1420.7,632.1 1422.4,647.9 1423.0,653.0C1423.6,658.1 1424.2,657.3 1424.0,661.9C1423.8,666.5 1422.1,682.0 1421.8,685.3M1510.0,565.3C1509.6,567.1 1508.7,575.0 1507.2,577.6C1505.7,580.2 1502.3,581.9 1499.4,583.2C1496.5,584.5 1489.1,583.5 1487.2,586.5C1485.3,589.5 1486.3,598.8 1486.1,604.2C1485.9,609.6 1486.6,620.1 1486.1,624.2C1485.6,628.3 1486.6,630.2 1482.8,633.0C1479.0,635.8 1466.0,640.9 1459.5,644.1C1453.0,647.3 1442.4,652.7 1437.3,655.2C1432.2,657.7 1425.9,660.9 1424.0,661.9M1426.3,663.0C1429.8,666.2 1447.1,682.1 1450.6,685.3" fill="none" stroke="#1a1a1a" stroke-width="1.6" stroke-linejoin="round" clip-path="url(#lc0)"/><rect x="1015.8" y="834.0" width="585.7" height="118.3" fill="#9d9da3" filter="url(#gran)"/><path d="M1015.8,858.7C1019.2,858.8 1036.3,860.9 1039.9,859.7C1043.5,858.5 1038.7,851.0 1041.0,850.1C1043.3,849.2 1050.9,850.8 1056.1,853.4C1061.3,856.0 1070.8,863.5 1077.6,868.4C1084.4,873.3 1096.5,882.8 1103.4,887.7C1110.3,892.6 1123.4,899.1 1126.1,902.9C1128.8,906.7 1123.4,911.2 1122.3,914.0C1121.2,916.8 1120.2,919.9 1118.6,922.3C1117.0,924.7 1113.0,929.1 1110.8,931.0C1108.6,932.9 1106.0,935.3 1103.4,935.3C1100.8,935.3 1097.0,933.2 1092.7,930.9C1088.4,928.6 1077.1,918.5 1073.4,919.1C1069.7,919.7 1068.8,930.3 1066.8,935.3C1064.8,940.3 1060.4,951.3 1059.3,954.0M1146.6,954.0C1146.6,950.1 1146.3,933.5 1146.6,926.6C1146.9,919.7 1147.9,910.9 1148.8,906.0C1149.7,901.1 1151.3,895.9 1153.1,892.1C1154.9,888.3 1158.0,881.7 1161.7,879.2C1165.4,876.7 1170.6,876.0 1178.9,874.9C1187.2,873.8 1213.4,873.9 1219.9,871.7C1226.4,869.5 1223.4,865.2 1224.2,859.8C1225.0,854.4 1225.1,837.7 1225.3,834.0M1383.1,834.0C1385.0,836.4 1393.2,846.4 1396.4,850.7C1399.6,855.0 1402.1,859.7 1405.3,864.1C1408.5,868.5 1416.1,877.4 1418.6,881.8C1421.1,886.2 1421.9,889.4 1423.0,895.1C1424.1,900.8 1425.8,916.6 1426.4,921.7C1427.0,926.8 1427.6,926.0 1427.4,930.6C1427.2,935.2 1425.5,950.7 1425.2,954.0M1513.4,834.0C1513.0,835.8 1512.1,843.7 1510.6,846.3C1509.1,848.9 1505.7,850.6 1502.8,851.9C1499.9,853.2 1492.5,852.2 1490.6,855.2C1488.7,858.2 1489.7,867.5 1489.5,872.9C1489.3,878.3 1490.0,888.8 1489.5,892.9C1489.0,897.0 1490.0,898.9 1486.2,901.7C1482.4,904.5 1469.4,909.6 1462.9,912.8C1456.4,916.0 1445.8,921.4 1440.7,923.9C1435.6,926.4 1429.3,929.6 1427.4,930.6M1429.7,931.7C1433.2,934.9 1450.5,950.8 1454.0,954.0" fill="none" stroke="#1a1a1a" stroke-width="1.6" stroke-linejoin="round" clip-path="url(#lc1)"/><rect x="1015.8" y="1086.0" width="586.7" height="118.2" fill="#9d9da3" filter="url(#gran)"/><path d="M1015.8,1110.7C1019.2,1110.8 1036.3,1112.9 1039.9,1111.7C1043.5,1110.5 1038.7,1103.0 1041.0,1102.1C1043.3,1101.2 1050.9,1102.8 1056.1,1105.4C1061.3,1108.0 1070.8,1115.5 1077.6,1120.4C1084.4,1125.3 1096.5,1134.8 1103.4,1139.7C1110.3,1144.6 1123.4,1151.1 1126.1,1154.9C1128.8,1158.7 1123.4,1163.2 1122.3,1166.0C1121.2,1168.8 1120.2,1171.9 1118.6,1174.3C1117.0,1176.7 1113.0,1181.1 1110.8,1183.0C1108.6,1184.9 1106.0,1187.3 1103.4,1187.3C1100.8,1187.3 1097.0,1185.2 1092.7,1182.9C1088.4,1180.6 1077.1,1170.5 1073.4,1171.1C1069.7,1171.7 1068.8,1182.3 1066.8,1187.3C1064.8,1192.3 1060.4,1203.3 1059.3,1206.0M1146.6,1206.0C1146.6,1202.1 1146.3,1185.5 1146.6,1178.6C1146.9,1171.7 1147.9,1162.9 1148.8,1158.0C1149.7,1153.1 1151.3,1147.9 1153.1,1144.1C1154.9,1140.3 1158.0,1133.7 1161.7,1131.2C1165.4,1128.7 1170.6,1128.0 1178.9,1126.9C1187.2,1125.8 1213.4,1125.9 1219.9,1123.7C1226.4,1121.5 1223.4,1117.2 1224.2,1111.8C1225.0,1106.4 1225.1,1089.7 1225.3,1086.0M1383.1,1086.0C1385.0,1088.4 1393.2,1098.4 1396.4,1102.7C1399.6,1107.0 1402.1,1111.7 1405.3,1116.1C1408.5,1120.5 1416.1,1129.4 1418.6,1133.8C1421.1,1138.2 1421.9,1141.4 1423.0,1147.1C1424.1,1152.8 1425.8,1168.6 1426.4,1173.7C1427.0,1178.8 1427.6,1178.0 1427.4,1182.6C1427.2,1187.2 1425.5,1202.7 1425.2,1206.0M1513.4,1086.0C1513.0,1087.8 1512.1,1095.7 1510.6,1098.3C1509.1,1100.9 1505.7,1102.6 1502.8,1103.9C1499.9,1105.2 1492.5,1104.2 1490.6,1107.2C1488.7,1110.2 1489.7,1119.5 1489.5,1124.9C1489.3,1130.3 1490.0,1140.8 1489.5,1144.9C1489.0,1149.0 1490.0,1150.9 1486.2,1153.7C1482.4,1156.5 1469.4,1161.6 1462.9,1164.8C1456.4,1168.0 1445.8,1173.4 1440.7,1175.9C1435.6,1178.4 1429.3,1181.6 1427.4,1182.6M1429.7,1183.7C1433.2,1186.9 1450.5,1202.8 1454.0,1206.0" fill="none" stroke="#1a1a1a" stroke-width="1.6" stroke-linejoin="round" clip-path="url(#lc2)"/><rect x="1012.8" y="1335.5" width="586.7" height="110.7" fill="#9d9da3" filter="url(#gran)"/><path d="M1012.8,1350.7C1016.2,1350.8 1033.3,1352.9 1036.9,1351.7C1040.5,1350.5 1035.7,1343.0 1038.0,1342.1C1040.3,1341.2 1047.9,1342.8 1053.1,1345.4C1058.3,1348.0 1067.8,1355.5 1074.6,1360.4C1081.4,1365.3 1093.5,1374.8 1100.4,1379.7C1107.3,1384.6 1120.4,1391.1 1123.1,1394.9C1125.8,1398.7 1120.4,1403.2 1119.3,1406.0C1118.2,1408.8 1117.2,1411.9 1115.6,1414.3C1114.0,1416.7 1110.0,1421.1 1107.8,1423.0C1105.6,1424.9 1103.0,1427.3 1100.4,1427.3C1097.8,1427.3 1094.0,1425.2 1089.7,1422.9C1085.4,1420.6 1074.1,1410.5 1070.4,1411.1C1066.7,1411.7 1065.8,1422.3 1063.8,1427.3C1061.8,1432.3 1057.4,1443.3 1056.3,1446.0M1143.6,1446.0C1143.6,1442.1 1143.3,1425.5 1143.6,1418.6C1143.9,1411.7 1144.9,1402.9 1145.8,1398.0C1146.7,1393.1 1148.3,1387.9 1150.1,1384.1C1151.9,1380.3 1155.0,1373.7 1158.7,1371.2C1162.4,1368.7 1167.6,1368.0 1175.9,1366.9C1184.2,1365.8 1210.4,1365.9 1216.9,1363.7C1223.4,1361.5 1220.4,1357.2 1221.2,1351.8C1222.0,1346.4 1222.1,1329.7 1222.3,1326.0M1380.1,1326.0C1382.0,1328.4 1390.2,1338.4 1393.4,1342.7C1396.6,1347.0 1399.1,1351.7 1402.3,1356.1C1405.5,1360.5 1413.1,1369.4 1415.6,1373.8C1418.1,1378.2 1418.9,1381.4 1420.0,1387.1C1421.1,1392.8 1422.8,1408.6 1423.4,1413.7C1424.0,1418.8 1424.6,1418.0 1424.4,1422.6C1424.2,1427.2 1422.5,1442.7 1422.2,1446.0M1510.4,1326.0C1510.0,1327.8 1509.1,1335.7 1507.6,1338.3C1506.1,1340.9 1502.7,1342.6 1499.8,1343.9C1496.9,1345.2 1489.5,1344.2 1487.6,1347.2C1485.7,1350.2 1486.7,1359.5 1486.5,1364.9C1486.3,1370.3 1487.0,1380.8 1486.5,1384.9C1486.0,1389.0 1487.0,1390.9 1483.2,1393.7C1479.4,1396.5 1466.4,1401.6 1459.9,1404.8C1453.4,1408.0 1442.8,1413.4 1437.7,1415.9C1432.6,1418.4 1426.3,1421.6 1424.4,1422.6M1426.7,1423.7C1430.2,1426.9 1447.5,1442.8 1451.0,1446.0" fill="none" stroke="#1a1a1a" stroke-width="1.6" stroke-linejoin="round" clip-path="url(#lc3)"/><polygon points="1012.6,565.8 1012.6,557.7 1040.8,549.7 1050.5,554.5 1089.3,557.7 1136.7,554.9 1141.0,565.8" fill="#4a6db8"/><path d="M1251,566C1250,556 1254,551 1262,550.5C1270,550 1274,552.5 1282,551C1290,549.5 1298,549.5 1310,551.5C1325,554 1334,558 1339.5,566Z" fill="#4a6db8"/><polygon points="1485.7,566.0 1491.7,552.8 1534.9,557.2 1536.0,555.0 1548.2,553.7 1552.6,557.7 1588.0,556.6 1592.5,552.8 1598.7,560.0 1598.7,566.0" fill="#4a6db8"/><polygon points="1136.0,833.0 1138.0,839.0 1150.0,843.5 1175.0,842.0 1200.0,844.5 1230.0,843.0 1255.0,841.0 1275.0,839.5 1290.0,836.0 1292.0,833.0" fill="#fff"/><polygon points="1341.0,833.0 1359.0,838.2 1372.9,851.0 1382.8,843.2 1402.5,839.2 1422.2,844.1 1447.8,849.1 1457.6,846.1 1469.5,836.3 1490.0,833.0" fill="#fff"/><polygon points="1015.8,834.5 1015.8,826.1 1044.3,818.2 1065.0,823.2 1138.0,823.7 1142.9,834.5" fill="#4a6db8"/><path d="M1254,835C1253,825 1257,820.5 1265,820C1273,819.5 1277,822 1285,820.5C1293,819 1301,819 1313,821C1328,823.5 1337,828 1342,835Z" fill="#4a6db8"/><polygon points="1489.2,835.0 1495.0,820.5 1538.4,824.4 1540.0,822.8 1552.2,822.5 1556.0,825.5 1591.6,826.4 1595.6,821.5 1601.5,826.4 1601.5,835.0" fill="#4a6db8"/><polygon points="1121.0,1085.0 1128.0,1092.0 1132.0,1097.0 1268.0,1097.5 1273.0,1090.0 1277.0,1085.0" fill="#fff"/><polygon points="1015.8,1086.5 1015.8,1078.1 1045.3,1069.2 1065.0,1075.1 1118.2,1076.1 1123.2,1086.5" fill="#4a6db8"/><polygon points="1114.3,1058.4 1138.9,1057.4 1142.9,1068.5 1121.2,1068.5" fill="#4a6db8"/><path d="M1255,1050C1262,1046 1275,1046 1279.5,1050L1280,1063L1258,1063.5C1253,1060 1252,1054 1255,1050Z" fill="#4a6db8"/><path d="M1277,1086.5C1276,1076 1280,1072 1296,1071.5C1315,1071 1332,1073 1338,1078C1342,1081 1343,1084 1343.5,1086.5Z" fill="#4a6db8"/><polygon points="1489.2,1086.5 1496.0,1073.2 1538.4,1076.1 1550.2,1074.1 1556.2,1077.7 1591.6,1075.1 1595.6,1073.2 1602.5,1078.0 1602.5,1086.5" fill="#4a6db8"/><polygon points="1136.0,1082.0 1149.8,1086.0 1163.5,1075.1 1166.5,1076.1 1166.5,1096.8 1138.0,1096.8" fill="#6c9a3e"/><polygon points="1239.4,1088.0 1248.3,1083.0 1264.0,1088.0 1269.0,1091.9 1264.0,1098.8 1242.4,1098.8" fill="#6c9a3e"/><polygon points="1390.6,1080.0 1396.6,1078.1 1406.4,1080.0 1408.4,1087.0 1410.3,1091.9 1392.6,1095.8 1389.0,1091.0" fill="#6c9a3e"/><polygon points="1443.8,1099.8 1457.6,1087.9 1467.5,1084.0 1481.3,1086.0 1483.3,1091.9 1469.5,1091.9 1449.8,1105.7" fill="#6c9a3e"/><polygon points="1012.0,1326.0 1600.0,1326.0 1600.0,1336.0 1560.0,1337.5 1500.0,1336.0 1440.0,1338.0 1400.0,1337.0 1360.0,1339.0 1330.0,1337.0 1300.0,1339.0 1270.0,1338.0 1230.0,1340.0 1200.0,1338.0 1170.0,1339.0 1012.0,1337.0" fill="#fff"/><polygon points="1013.8,1323.4 1041.4,1322.5 1059.1,1313.6 1106.4,1326.4 1108.4,1323.4 1110.3,1334.3 1106.4,1338.2 1090.6,1348.1 1082.8,1342.2 1039.4,1342.2 1013.8,1338.2" fill="#6c9a3e"/><polygon points="1132.0,1323.4 1141.9,1324.4 1149.8,1322.5 1163.5,1316.6 1163.5,1338.2 1138.0,1338.2 1132.0,1334.3" fill="#6c9a3e"/><polygon points="1235.5,1333.3 1244.3,1325.4 1256.2,1327.4 1265.0,1332.3 1262.1,1338.2 1248.3,1342.2 1238.0,1339.0" fill="#6c9a3e"/><polygon points="1386.7,1320.5 1392.6,1322.5 1402.5,1321.5 1407.4,1330.3 1422.2,1330.3 1431.0,1335.3 1424.1,1344.1 1406.4,1342.2 1388.7,1338.2" fill="#6c9a3e"/><polygon points="1439.9,1343.2 1449.8,1334.3 1463.5,1326.4 1469.5,1319.5 1499.0,1320.5 1520.7,1320.5 1519.7,1316.6 1546.3,1310.6 1556.2,1320.5 1575.9,1322.5 1586.7,1305.7 1598.5,1316.6 1599.5,1338.2 1575.9,1340.2 1546.3,1338.2 1516.7,1338.2 1497.0,1350.0 1487.2,1346.1 1467.5,1342.2 1449.8,1348.1 1441.9,1350.0" fill="#6c9a3e"/><polygon points="1261.7,689.2 1353.1,689.2 1353.1,711.8 1383.0,711.8 1306.8,742.3 1232.6,711.8 1261.7,711.8" fill="#c3672c"/><polygon points="1261.5,955.5 1353.4,955.5 1353.4,977.6 1383.7,977.6 1307.9,1009.1 1230.5,977.6 1261.5,977.6" fill="#c3672c"/><polygon points="1261.0,1237.3 1353.2,1237.3 1353.2,1258.4 1383.7,1258.4 1306.5,1289.5 1229.6,1258.4 1261.0,1258.4" fill="#c3672c"/><path d="M1156.7,802.5L1156.7,787.8" stroke="#000" stroke-width="1.8"/><polygon points="1156.7,780.8 1160.9,789.3 1152.5,789.3" fill="#000"/><path d="M1199.0,791.6L1199.0,775.0" stroke="#000" stroke-width="1.8"/><polygon points="1199.0,768.0 1203.2,776.5 1194.8,776.5" fill="#000"/><path d="M1236.5,798.5L1236.5,782.9" stroke="#000" stroke-width="1.8"/><polygon points="1236.5,775.9 1240.7,784.4 1232.3,784.4" fill="#000"/><path d="M1364.0,804.7L1364.0,790.0" stroke="#000" stroke-width="1.8"/><polygon points="1364.0,783.0 1368.2,791.5 1359.8,791.5" fill="#000"/><path d="M1387.7,803.7L1387.7,788.0" stroke="#000" stroke-width="1.8"/><polygon points="1387.7,781.0 1391.9,789.5 1383.5,789.5" fill="#000"/><path d="M1416.3,793.9L1416.3,778.6" stroke="#000" stroke-width="1.8"/><polygon points="1416.3,771.6 1420.5,780.1 1412.1,780.1" fill="#000"/><path d="M1468.5,804.7L1468.5,790.0" stroke="#000" stroke-width="1.8"/><polygon points="1468.5,783.0 1472.7,791.5 1464.3,791.5" fill="#000"/><path d="M1183.3,844.8L1188.3,852.7" stroke="#000" stroke-width="1.8"/><polygon points="1192.1,858.6 1184.0,853.7 1191.1,849.2" fill="#000"/><path d="M1212.8,844.8L1217.2,852.5" stroke="#000" stroke-width="1.8"/><polygon points="1220.7,858.6 1212.8,853.3 1220.1,849.1" fill="#000"/><path d="M1430.0,847.0L1425.4,855.7" stroke="#000" stroke-width="1.8"/><polygon points="1422.2,861.9 1422.4,852.4 1429.9,856.3" fill="#000"/><path d="M1184.2,1095.8L1189.3,1103.7" stroke="#000" stroke-width="1.8"/><polygon points="1193.1,1109.6 1185.0,1104.7 1192.0,1100.2" fill="#000"/><path d="M1212.8,1095.8L1217.2,1103.5" stroke="#000" stroke-width="1.8"/><polygon points="1220.7,1109.6 1212.8,1104.3 1220.1,1100.1" fill="#000"/><path d="M1374.9,1101.7L1371.1,1109.2" stroke="#000" stroke-width="1.8"/><polygon points="1368.0,1115.5 1368.0,1106.0 1375.6,1109.8" fill="#000"/><path d="M1430.0,1098.8L1425.3,1108.2" stroke="#000" stroke-width="1.8"/><polygon points="1422.2,1114.5 1422.2,1105.0 1429.7,1108.8" fill="#000"/><path d="M1133.0,1053.4L1146.8,1032.6" stroke="#000" stroke-width="1.8"/><polygon points="1150.7,1026.8 1149.5,1036.2 1142.5,1031.5" fill="#000"/><path d="M1267.0,1044.6L1258.3,1032.5" stroke="#000" stroke-width="1.8"/><polygon points="1254.2,1026.8 1262.6,1031.2 1255.8,1036.2" fill="#000"/><path d="M1394.6,1079.0L1396.0,1064.4" stroke="#000" stroke-width="1.8"/><polygon points="1396.6,1057.4 1400.0,1066.3 1391.6,1065.5" fill="#000"/><path d="M1473.4,1080.0L1464.8,1063.6" stroke="#000" stroke-width="1.8"/><polygon points="1461.6,1057.4 1469.3,1063.0 1461.8,1066.9" fill="#000"/><circle cx="1155.7" cy="819.2" r="12.3" fill="#fff" stroke="#000" stroke-width="2.3"/><text x="1146.5" y="823.0" style="font-family:'Liberation Sans', sans-serif;font-size:9.5px" textLength="13" lengthAdjust="spacingAndGlyphs">Mg</text><text x="1159.3" y="817.7" style="font-family:'Liberation Sans', sans-serif;font-size:6.5px">2+</text><circle cx="1195.0" cy="803.4" r="12.3" fill="#fff" stroke="#000" stroke-width="2.3"/><text x="1185.8" y="807.2" style="font-family:'Liberation Sans', sans-serif;font-size:9.5px" textLength="13" lengthAdjust="spacingAndGlyphs">Mg</text><text x="1198.6" y="801.9" style="font-family:'Liberation Sans', sans-serif;font-size:6.5px">2+</text><circle cx="1238.4" cy="813.9" r="12.3" fill="#fff" stroke="#000" stroke-width="2.3"/><text x="1229.2" y="817.7" style="font-family:'Liberation Sans', sans-serif;font-size:9.5px" textLength="13" lengthAdjust="spacingAndGlyphs">Mg</text><text x="1242.0" y="812.4" style="font-family:'Liberation Sans', sans-serif;font-size:6.5px">2+</text><circle cx="1180.9" cy="831.6" r="12.3" fill="#fff" stroke="#000" stroke-width="2.3"/><text x="1172.7" y="835.4" style="font-family:'Liberation Sans', sans-serif;font-size:9.5px">In</text><text x="1182.5" y="830.1" style="font-family:'Liberation Sans', sans-serif;font-size:6.5px">3+</text><circle cx="1210.8" cy="830.0" r="12.3" fill="#fff" stroke="#000" stroke-width="2.3"/><text x="1202.6" y="833.8" style="font-family:'Liberation Sans', sans-serif;font-size:9.5px">In</text><text x="1212.4" y="828.5" style="font-family:'Liberation Sans', sans-serif;font-size:6.5px">3+</text><circle cx="1362.7" cy="817.9" r="12.3" fill="#fff" stroke="#000" stroke-width="2.3"/><text x="1353.5" y="821.7" style="font-family:'Liberation Sans', sans-serif;font-size:9.5px" textLength="13" lengthAdjust="spacingAndGlyphs">Mg</text><text x="1366.3" y="816.4" style="font-family:'Liberation Sans', sans-serif;font-size:6.5px">2+</text><circle cx="1388.1" cy="821.5" r="12.3" fill="#fff" stroke="#000" stroke-width="2.3"/><text x="1379.9" y="825.3" style="font-family:'Liberation Sans', sans-serif;font-size:9.5px">In</text><text x="1389.7" y="820.0" style="font-family:'Liberation Sans', sans-serif;font-size:6.5px">3+</text><circle cx="1413.3" cy="808.7" r="12.3" fill="#fff" stroke="#000" stroke-width="2.3"/><text x="1404.1" y="812.5" style="font-family:'Liberation Sans', sans-serif;font-size:9.5px" textLength="13" lengthAdjust="spacingAndGlyphs">Mg</text><text x="1416.9" y="807.2" style="font-family:'Liberation Sans', sans-serif;font-size:6.5px">2+</text><circle cx="1437.9" cy="834.3" r="12.3" fill="#fff" stroke="#000" stroke-width="2.3"/><text x="1429.7" y="838.1" style="font-family:'Liberation Sans', sans-serif;font-size:9.5px">In</text><text x="1439.5" y="832.8" style="font-family:'Liberation Sans', sans-serif;font-size:6.5px">3+</text><circle cx="1470.4" cy="820.5" r="12.3" fill="#fff" stroke="#000" stroke-width="2.3"/><text x="1461.2" y="824.3" style="font-family:'Liberation Sans', sans-serif;font-size:9.5px" textLength="13" lengthAdjust="spacingAndGlyphs">Mg</text><text x="1474.0" y="819.0" style="font-family:'Liberation Sans', sans-serif;font-size:6.5px">2+</text><circle cx="1181.3" cy="1081.6" r="12.3" fill="#fff" stroke="#000" stroke-width="2.3"/><text x="1181.3" y="1085.9" text-anchor="middle" style="font-family:'Liberation Sans', sans-serif;font-weight:bold;font-size:11.5px">In</text><circle cx="1211.8" cy="1081.6" r="12.3" fill="#fff" stroke="#000" stroke-width="2.3"/><text x="1211.8" y="1085.9" text-anchor="middle" style="font-family:'Liberation Sans', sans-serif;font-weight:bold;font-size:11.5px">In</text><circle cx="1376.5" cy="1087.9" r="12.3" fill="#fff" stroke="#000" stroke-width="2.3"/><text x="1376.5" y="1092.2" text-anchor="middle" style="font-family:'Liberation Sans', sans-serif;font-weight:bold;font-size:11.5px">In</text><circle cx="1437.9" cy="1086.4" r="12.3" fill="#fff" stroke="#000" stroke-width="2.3"/><text x="1437.9" y="1090.7" text-anchor="middle" style="font-family:'Liberation Sans', sans-serif;font-weight:bold;font-size:11.5px">In</text><circle cx="1190.1" cy="1295.9" r="12.3" fill="#fff" stroke="#000" stroke-width="2.3"/><text x="1180.9" y="1299.7" style="font-family:'Liberation Sans', sans-serif;font-size:9.5px" textLength="13" lengthAdjust="spacingAndGlyphs">Mg</text><text x="1193.7" y="1294.4" style="font-family:'Liberation Sans', sans-serif;font-size:6.5px">2+</text><circle cx="1178.3" cy="1324.4" r="12.3" fill="#fff" stroke="#000" stroke-width="2.3"/><text x="1178.3" y="1328.7" text-anchor="middle" style="font-family:'Liberation Sans', sans-serif;font-weight:bold;font-size:11.5px">In</text><circle cx="1215.8" cy="1322.5" r="12.3" fill="#fff" stroke="#000" stroke-width="2.3"/><text x="1207.6" y="1326.3" style="font-family:'Liberation Sans', sans-serif;font-size:9.5px">In</text><text x="1217.4" y="1321.0" style="font-family:'Liberation Sans', sans-serif;font-size:6.5px">3+</text><circle cx="1243.3" cy="1305.7" r="12.3" fill="#fff" stroke="#000" stroke-width="2.3"/><text x="1234.1" y="1309.5" style="font-family:'Liberation Sans', sans-serif;font-size:9.5px" textLength="13" lengthAdjust="spacingAndGlyphs">Mg</text><text x="1246.9" y="1304.2" style="font-family:'Liberation Sans', sans-serif;font-size:6.5px">2+</text><circle cx="1276.8" cy="1309.7" r="12.3" fill="#fff" stroke="#000" stroke-width="2.3"/><text x="1267.6" y="1313.5" style="font-family:'Liberation Sans', sans-serif;font-size:9.5px" textLength="13" lengthAdjust="spacingAndGlyphs">Mg</text><text x="1280.4" y="1308.2" style="font-family:'Liberation Sans', sans-serif;font-size:6.5px">2+</text><circle cx="1299.5" cy="1324.4" r="12.3" fill="#fff" stroke="#000" stroke-width="2.3"/><text x="1299.5" y="1328.7" text-anchor="middle" style="font-family:'Liberation Sans', sans-serif;font-weight:bold;font-size:11.5px">In</text><circle cx="1319.1" cy="1304.3" r="12.3" fill="#fff" stroke="#000" stroke-width="2.3"/><text x="1309.9" y="1308.1" style="font-family:'Liberation Sans', sans-serif;font-size:9.5px" textLength="13" lengthAdjust="spacingAndGlyphs">Mg</text><text x="1322.7" y="1302.8" style="font-family:'Liberation Sans', sans-serif;font-size:6.5px">2+</text><circle cx="1338.0" cy="1324.0" r="12.3" fill="#fff" stroke="#000" stroke-width="2.3"/><text x="1329.8" y="1327.8" style="font-family:'Liberation Sans', sans-serif;font-size:9.5px">In</text><text x="1339.6" y="1322.5" style="font-family:'Liberation Sans', sans-serif;font-size:6.5px">3+</text><circle cx="1357.1" cy="1305.1" r="12.3" fill="#fff" stroke="#000" stroke-width="2.3"/><text x="1347.9" y="1308.9" style="font-family:'Liberation Sans', sans-serif;font-size:9.5px" textLength="13" lengthAdjust="spacingAndGlyphs">Mg</text><text x="1360.7" y="1303.6" style="font-family:'Liberation Sans', sans-serif;font-size:6.5px">2+</text><circle cx="1374.5" cy="1327.4" r="12.3" fill="#fff" stroke="#000" stroke-width="2.3"/><text x="1374.5" y="1331.7" text-anchor="middle" style="font-family:'Liberation Sans', sans-serif;font-weight:bold;font-size:11.5px">In</text><circle cx="1438.9" cy="1321.9" r="12.3" fill="#fff" stroke="#000" stroke-width="2.3"/><text x="1429.7" y="1325.7" style="font-family:'Liberation Sans', sans-serif;font-size:9.5px" textLength="13" lengthAdjust="spacingAndGlyphs">Mg</text><text x="1442.5" y="1320.4" style="font-family:'Liberation Sans', sans-serif;font-size:6.5px">2+</text><text x="972.5" y="554" style="font-family:'Liberation Serif', serif;font-size:28px">(c)</text><text x="1016.5" y="546.3" style="font-family:'Liberation Sans', sans-serif;font-weight:bold;font-size:17.5px" textLength="228" lengthAdjust="spacingAndGlyphs">Discontinuous Oxide film</text><text x="1168.0" y="670.9" style="font-family:'Liberation Sans', sans-serif;font-weight:bold;font-size:24.5px" textLength="242.7" lengthAdjust="spacingAndGlyphs">Mg-In solid solution</text><text x="1019.3" y="705.3" style="font-family:'Liberation Sans', sans-serif;font-weight:bold;font-size:21px" textLength="128.2" lengthAdjust="spacingAndGlyphs">Initial stage.</text><text x="1102.5" y="764" style="font-family:'Liberation Sans', sans-serif;font-weight:bold;font-size:12.8px" textLength="184.2" lengthAdjust="spacingAndGlyphs">Forming Mg(OH)<tspan font-size="8.5" dy="2.5">2</tspan><tspan dy="-2.5"> products</tspan></text><text x="1324.6" y="766.3" style="font-family:'Liberation Sans', sans-serif;font-weight:bold;font-size:13.5px" textLength="269" lengthAdjust="spacingAndGlyphs">Forming Mg(OH)<tspan font-size="9" dy="2.5">2</tspan><tspan dy="-2.5"> and In(OH)</tspan><tspan font-size="9" dy="2.5">3</tspan><tspan dy="-2.5"> products</tspan></text><text x="1116.3" y="882.3" style="font-family:'Liberation Sans', sans-serif;font-weight:bold;font-size:18.5px" textLength="415.2" lengthAdjust="spacingAndGlyphs">Absorbed In<tspan font-size="12" dy="-7">3+</tspan><tspan dy="7"> for replacement reaction</tspan></text><text x="1022.7" y="973.2" style="font-family:'Liberation Sans', sans-serif;font-weight:bold;font-size:19.5px" textLength="199" lengthAdjust="spacingAndGlyphs">Dissolving process.</text><text x="1141.5" y="1020.0" style="font-family:'Liberation Sans', sans-serif;font-weight:bold;font-size:12.8px" textLength="148.5" lengthAdjust="spacingAndGlyphs">Oxide film desorption</text><text x="1354.8" y="1049.5" style="font-family:'Liberation Sans', sans-serif;font-weight:bold;font-size:12.2px" textLength="168.2" lengthAdjust="spacingAndGlyphs">Products film generation</text><text x="1077.8" y="1134.2" style="font-family:'Liberation Sans', sans-serif;font-weight:bold;font-size:19.5px" textLength="476.4" lengthAdjust="spacingAndGlyphs">Generated elementary substance In particles</text><text x="1020.7" y="1226.8" style="font-family:'Liberation Sans', sans-serif;font-weight:bold;font-size:18.5px" textLength="497" lengthAdjust="spacingAndGlyphs">Oxide film desorption and products formation.</text><text x="1019.7" y="1466.3" style="font-family:'Liberation Sans', sans-serif;font-weight:bold;font-size:19.5px" textLength="587.7" lengthAdjust="spacingAndGlyphs">Continuous dissolution-reprecipitation of In for activation.</text></svg></body></html>
